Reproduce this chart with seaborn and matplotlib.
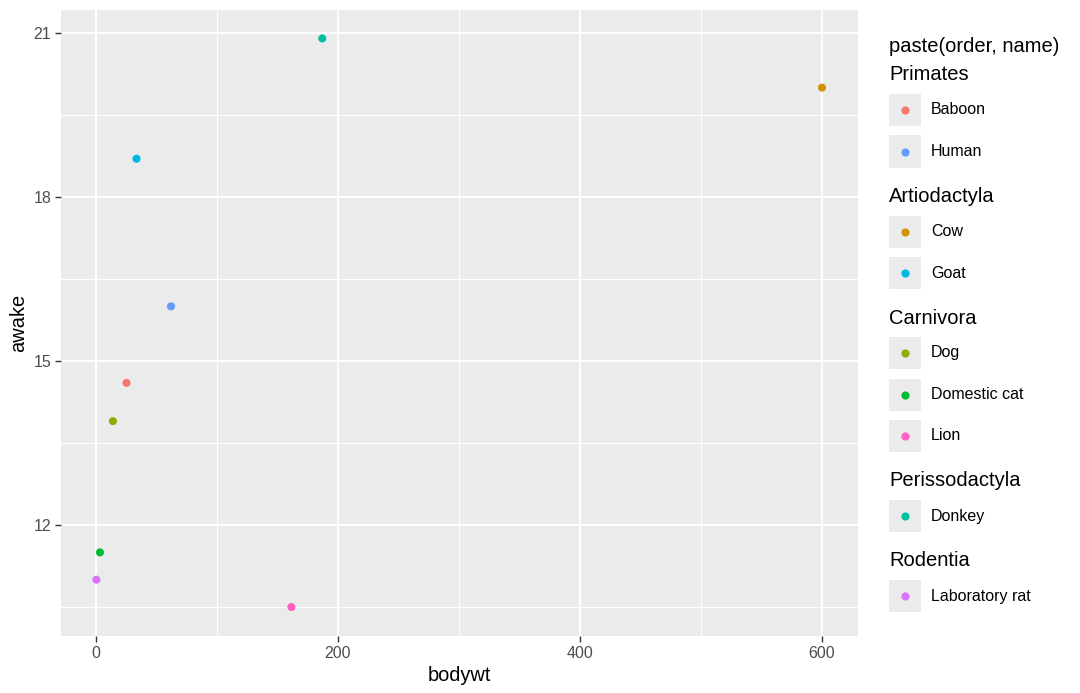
import matplotlib
matplotlib.use("Agg")
import matplotlib.pyplot as plt
import seaborn as sns
import pandas as pd
from matplotlib.patches import Rectangle
from matplotlib.lines import Line2D

# data
names = ["Baboon", "Cow", "Dog", "Domestic cat", "Donkey", "Goat",
         "Human", "Laboratory rat", "Lion"]
orders = ["Primates", "Artiodactyla", "Carnivora", "Carnivora", "Perissodactyla",
          "Artiodactyla", "Primates", "Rodentia", "Carnivora"]
bodywt = [25.2, 600, 14, 3.3, 187, 33.5, 62, 0.32, 161.5]
awake = [14.6, 20.0, 13.9, 11.5, 20.9, 18.7, 16.0, 11.0, 10.5]
colors = ["#F8766D", "#D39200", "#93AA00", "#00BA38", "#00C19F",
          "#00B9E3", "#619CFF", "#DB72FB", "#FF61C3"]

legend_groups = ["Primates", "Artiodactyla", "Carnivora", "Perissodactyla", "Rodentia"]

df = pd.DataFrame({"name": names, "order": orders, "bodywt": bodywt, "awake": awake})
color_map = dict(zip(names, colors))

plt.rcParams["font.family"] = ["Liberation Sans", "DejaVu Sans"]

fig = plt.figure(figsize=(10.8, 6.93), dpi=100)
W, H = 1080, 693
ax = fig.add_axes([61 / W, 1 - 636 / H, (858 - 61) / W, (636 - 10) / H])
ax.set_facecolor("#EBEBEB")

sns.scatterplot(data=df, x="bodywt", y="awake", hue="name", palette=color_map,
                s=34, linewidth=0, legend=False, ax=ax, zorder=3)

ax.set_xlim(-28.9, 629.75)
ax.set_ylim(9.97, 21.42)
ax.set_xticks([0, 200, 400, 600])
ax.set_xticks([100, 300, 500], minor=True)
ax.set_yticks([12, 15, 18, 21])
ax.set_yticks([10.5, 13.5, 16.5, 19.5], minor=True)
ax.grid(which="major", color="white", linewidth=1.4, zorder=0)
ax.grid(which="minor", color="white", linewidth=0.7, zorder=0)
ax.set_axisbelow(True)
for sp in ax.spines.values():
    sp.set_visible(False)
ax.tick_params(which="major", length=4, width=1, color="#333333",
               labelcolor="#4D4D4D", labelsize=11.5, pad=3)
ax.tick_params(which="minor", length=0)
ax.set_xlabel("bodywt", fontsize=14.4, color="black", labelpad=4)
ax.set_ylabel("awake", fontsize=14.4, color="black", labelpad=4)


# grouped legend, drawn by hand in pixel coordinates
def fx(px):
    return px / W


def fy(py):
    return 1 - py / H


fig.text(fx(889), fy(47), "paste(order, name)", fontsize=14.5, va="center", ha="left")
y = 75
for g in legend_groups:
    fig.text(fx(889), fy(y), g, fontsize=14.5, va="center", ha="left")
    y += 35
    members = [n for n, o in zip(names, orders) if o == g]
    for n in members:
        fig.add_artist(Rectangle((fx(889), fy(y + 16)), 32 / W, 32 / H,
                                 transform=fig.transFigure, facecolor="#EBEBEB",
                                 edgecolor="none"))
        fig.add_artist(Line2D([fx(905)], [fy(y)], transform=fig.transFigure,
                              marker="o", markersize=5.9, color=color_map[n],
                              markeredgewidth=0, linestyle="none"))
        fig.text(fx(931), fy(y), n, fontsize=11.5, va="center", ha="left")
        y += 41.5
    y += 45 - 41.5

fig.savefig("out.png", dpi=100)
